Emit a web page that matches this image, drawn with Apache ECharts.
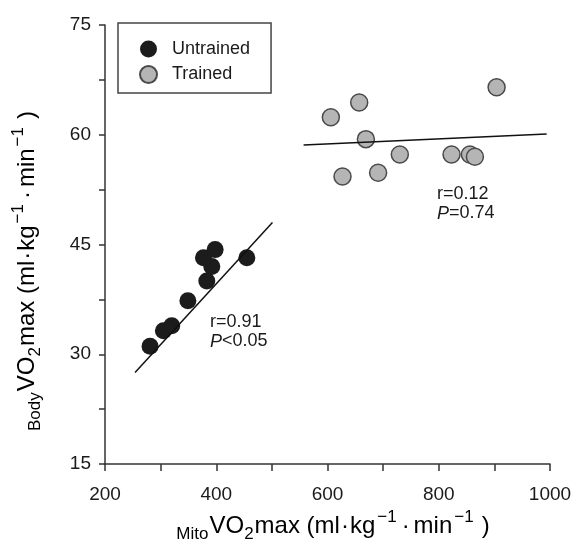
<!DOCTYPE html>
<html><head><meta charset="utf-8">
<script src="https://cdn.jsdelivr.net/npm/echarts@6/dist/echarts.min.js"></script>
<style>html,body{margin:0;padding:0;background:#fff}#c{width:580px;height:544px}</style>
</head><body><div id="c"></div>
<script>
const seriesNames = ['Untrained', 'Trained'];
const untrainedX = [281, 305, 320, 349, 383, 377, 398, 392, 455];
const untrainedY = [31.1, 33.2, 33.9, 37.3, 40.0, 43.2, 44.3, 42.0, 43.2];
const trainedX = [606, 657, 669, 627, 691, 730, 823, 856, 865, 904];
const trainedY = [62.4, 64.4, 59.4, 54.3, 54.8, 57.3, 57.3, 57.3, 57.0, 66.5];
const untrainedFitX = [254, 501];
const untrainedFitY = [27.5, 48.0];
const trainedFitX = [557, 994];
const trainedFitY = [58.6, 60.1];
const xTickLabels = [200, 400, 600, 800, 1000];
const yTickLabels = [15, 30, 45, 60, 75];
const statsUntrained = ['r=0.91', 'P', '<0.05'];
const statsTrained = ['r=0.12', 'P', '=0.74'];

const FONT = 'Liberation Sans, Arial, Helvetica, sans-serif';
const TXT = '#1a1a1a';
const AX = '#333';
const zip = (a, b) => a.map((v, i) => [v, b[i]]);

const base = { fontFamily: FONT, color: TXT };
const titleRich = {
  m: Object.assign({ fontSize: 24, lineHeight: 34, verticalAlign: 'middle' }, base),
  d1: Object.assign({ fontSize: 24, lineHeight: 34, verticalAlign: 'middle', padding: [0, 1, 0, 1] }, base),
  d2: Object.assign({ fontSize: 24, lineHeight: 34, verticalAlign: 'middle', padding: [0, 4, 0, 1] }, base),
  cl: Object.assign({ fontSize: 24, lineHeight: 34, verticalAlign: 'middle', padding: [0, 0, 0, 6] }, base),
  sb: Object.assign({ fontSize: 17, lineHeight: 22, verticalAlign: 'bottom', padding: [0, 1, 0, 0] }, base),
  sp1: Object.assign({ fontSize: 17, lineHeight: 11, verticalAlign: 'top', padding: [0, 4, 0, 2] }, base),
  sp2: Object.assign({ fontSize: 17, lineHeight: 11, verticalAlign: 'top', padding: [0, 2, 0, 2] }, base)
};
function titleText(prefix) {
  return '{sb|' + prefix + '}{m|VO}{sb|2}{m|max (ml}{d1|·}{m|kg}{sp1|−1}{d2|·}{m|min}{sp2|−1}{cl|)}';
}

const chart = echarts.init(document.getElementById('c'), null, { renderer: 'canvas' });
chart.setOption({
  animation: false,
  backgroundColor: '#fff',
  grid: { left: 105, right: 30, top: 25, bottom: 80 },
  legend: {
    orient: 'vertical', left: 118, top: 23,
    data: seriesNames,
    icon: 'circle', itemWidth: 17, itemHeight: 17, itemGap: 7,
    padding: [17, 21, 9, 21],
    borderColor: '#444', borderWidth: 1.5,
    textStyle: { fontSize: 18, fontFamily: FONT, color: TXT, padding: [0, 0, 0, 10] }
  },
  xAxis: {
    type: 'value', min: 200, max: 1000, interval: 100,
    splitLine: { show: false },
    axisLine: { lineStyle: { color: AX, width: 1.5 } },
    axisTick: { length: 7, lineStyle: { color: AX, width: 1.5 } },
    axisLabel: {
      margin: 21, fontSize: 19, fontFamily: FONT, color: TXT,
      formatter: v => xTickLabels.includes(v) ? String(v) : ''
    }
  },
  yAxis: {
    type: 'value', min: 15, max: 75, interval: 7.5,
    splitLine: { show: false },
    axisLine: { lineStyle: { color: AX, width: 1.5 } },
    axisTick: { length: 6, lineStyle: { color: AX, width: 1.5 } },
    axisLabel: {
      margin: 14, fontSize: 19, fontFamily: FONT, color: TXT,
      formatter: v => yTickLabels.includes(v) ? String(v) : ''
    }
  },
  series: [
    { name: seriesNames[0], type: 'scatter', symbol: 'circle', symbolSize: 17, z: 2,
      itemStyle: { color: '#1c1c1c', opacity: 1 }, data: zip(untrainedX, untrainedY) },
    { name: seriesNames[1], type: 'scatter', symbol: 'circle', symbolSize: 17, z: 2,
      itemStyle: { color: '#b5b5b5', borderColor: '#4a4a4a', borderWidth: 1.5, opacity: 1 },
      data: zip(trainedX, trainedY) },
    { type: 'line', silent: true, symbol: 'none', z: 3,
      lineStyle: { color: '#111', width: 1.5 }, data: zip(untrainedFitX, untrainedFitY) },
    { type: 'line', silent: true, symbol: 'none', z: 3,
      lineStyle: { color: '#111', width: 1.5 }, data: zip(trainedFitX, trainedFitY) }
  ],
  graphic: [
    { type: 'text', left: 210, top: 313, z: 10,
      style: { text: statsUntrained[0] + '\n{i|' + statsUntrained[1] + '}' + statsUntrained[2],
        fontSize: 18, lineHeight: 19, fontFamily: FONT, fill: TXT,
        rich: { i: { fontStyle: 'italic', fontSize: 18, lineHeight: 19, fontFamily: FONT, color: TXT } } } },
    { type: 'text', left: 437, top: 185, z: 10,
      style: { text: statsTrained[0] + '\n{i|' + statsTrained[1] + '}' + statsTrained[2],
        fontSize: 18, lineHeight: 19, fontFamily: FONT, fill: TXT,
        rich: { i: { fontStyle: 'italic', fontSize: 18, lineHeight: 19, fontFamily: FONT, color: TXT } } } },
    { type: 'text', x: 333, y: 526, z: 10,
      style: { text: titleText('Mito'), rich: titleRich, align: 'center', verticalAlign: 'middle' } },
    { type: 'text', x: 27, y: 271, rotation: Math.PI / 2, z: 10,
      style: { text: titleText('Body'), rich: titleRich, align: 'center', verticalAlign: 'middle' } }
  ]
});
</script></body></html>
